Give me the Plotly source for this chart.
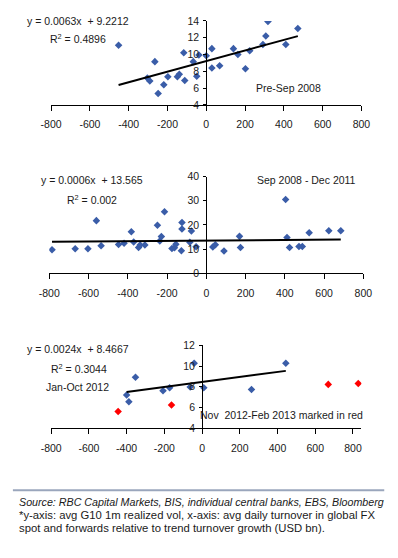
import plotly.graph_objects as go

# ---------------- data ----------------
# Panel 1: Pre-Sep 2008
x1 = [-452, -304, -291, -265, -248, -219, -198, -149, -139, -116, -111, -67, -49, -38,
      0, 29, 29, 69, 140, 163, 202, 224, 292, 307, 318, 410, 472]
y1 = [11.1, 7.2, 6.85, 9.15, 5.35, 6.4, 7.35, 7.35, 7.65, 10.2, 6.9, 9.15, 7.4, 9.95,
      9.85, 10.7, 8.4, 8.65, 10.7, 10.0, 8.3, 10.45, 11.2, 12.2, 13.95, 11.2, 13.1]
slope1, icpt1 = 0.0063, 9.2212

# Panel 2: Sep 2008 - Dec 2011
x2 = [-786, -668, -603, -560, -536, -447, -419, -382, -370, -345, -337, -313, -249, -237,
      -229, -213, -175, -162, -155, -127, -124, -124, -84, -76, -52, 33, 46, 90, 169, 174,
      404, 411, 424, 472, 489, 524, 624, 685]
y2 = [9.8, 10.2, 10.2, 21.8, 11.4, 11.9, 12.5, 17.2, 13.0, 10.7, 11.7, 11.7, 19.9, 13.4,
      15.2, 25.5, 10.3, 10.6, 12.0, 9.4, 21.0, 18.3, 12.9, 17.5, 11.0, 10.9, 11.8, 9.3, 15.3,
      10.7, 30.5, 14.8, 10.7, 11.1, 11.1, 16.8, 17.6, 17.6]
slope2, icpt2 = 0.0006, 13.565

# Panel 3: Jan-Oct 2012 (blue) and Nov 2012-Feb 2013 (red)
x3 = [-400, -388, -353, -207, -172, -63, -42, 9, 262, 444]
y3 = [7.2, 6.55, 8.92, 7.62, 7.9, 7.98, 10.27, 7.9, 7.73, 10.27]
x3_red = [-445, -162, 669, 828]
y3_red = [5.62, 6.25, 8.23, 8.32]
slope3, icpt3 = 0.0024, 8.4667

x_ticks = [-800, -600, -400, -200, 0, 200, 400, 600, 800]
y1_ticks = [4, 6, 8, 10, 12, 14]
y2_ticks = [0, 10, 20, 30, 40]
y3_ticks = [4, 6, 8, 10, 12]

# ---------------- layout helpers ----------------
W, H = 398, 558
def px(x):
    return x / W
def py(y):
    return 1 - y / H

BLUE = "#3A5DA8"
RED = "#FF0000"
TXT = "#1a1a1a"
FONT = "Liberation Sans, Arial, sans-serif"

panels = [
    dict(xr=[-800, 800], yr=[4, 14], xdom=[px(42.2), px(369)], ydom=[py(101), py(15.3)], yt=y1_ticks),
    dict(xr=[-800, 800], yr=[0, 40], xdom=[px(40.3), px(371)], ydom=[py(273.3), py(174.3)], yt=y2_ticks),
    dict(xr=[-800, 845], yr=[4, 12], xdom=[px(42.3), px(369)], ydom=[py(431.6), py(346.7)], yt=y3_ticks),
]

fig = go.Figure()

def add_panel(i, xs, ys, slope, icpt, color=BLUE):
    ax = "" if i == 1 else str(i)
    fig.add_trace(go.Scatter(x=xs, y=ys, mode="markers",
                             marker=dict(symbol="diamond", size=5.8, color=color),
                             xaxis="x" + ax, yaxis="y" + ax, showlegend=False))
    lx = [min(xs), max(xs)]
    fig.add_trace(go.Scatter(x=lx, y=[slope * v + icpt for v in lx], mode="lines",
                             line=dict(color="black", width=2),
                             xaxis="x" + ax, yaxis="y" + ax, showlegend=False))

add_panel(1, x1, y1, slope1, icpt1)
add_panel(2, x2, y2, slope2, icpt2)
add_panel(3, x3, y3, slope3, icpt3)
fig.add_trace(go.Scatter(x=x3_red, y=y3_red, mode="markers",
                         marker=dict(symbol="diamond", size=5.8, color=RED),
                         xaxis="x3", yaxis="y3", showlegend=False))

layout = {}
for i, p in enumerate(panels, start=1):
    ax = "" if i == 1 else str(i)
    pos = p["xdom"][0] + (0 - p["xr"][0]) / (p["xr"][1] - p["xr"][0]) * (p["xdom"][1] - p["xdom"][0])
    layout["xaxis" + ax] = dict(
        domain=p["xdom"], range=p["xr"], anchor="y" + ax,
        tickvals=x_ticks, ticktext=[str(v) for v in x_ticks],
        showgrid=False, zeroline=False, showline=True, linecolor="black", linewidth=1,
        ticks="outside", ticklen=5, tickcolor="black", tickwidth=1,
        ticklabelstandoff=5,
        tickfont=dict(family=FONT, size=10.5, color=TXT), fixedrange=True)
    layout["yaxis" + ax] = dict(
        domain=p["ydom"], range=p["yr"], anchor="free", position=pos,
        tickvals=p["yt"], ticktext=[str(v) for v in p["yt"]],
        showgrid=False, zeroline=False, showline=True, linecolor="black", linewidth=1,
        ticks="outside", ticklen=3, tickcolor="black", tickwidth=1,
        ticklabelstandoff=2,
        tickfont=dict(family=FONT, size=10.5, color=TXT), fixedrange=True)

def ann(text, x, y, size=10.5, italic=False, xanchor="center"):
    return dict(text=text, x=px(x), y=py(y), xref="paper", yref="paper",
                xanchor=xanchor, yanchor="middle", showarrow=False,
                font=dict(family=FONT, size=size, color=TXT,
                          style="italic" if italic else "normal"))

annotations = [
    ann("y = 0.0063x  + 9.2212", 71, 15),
    ann("R<sup>2</sup> = 0.4896", 71, 33),
    ann("Pre-Sep 2008", 292.5, 83.3),
    ann("y = 0.0006x  + 13.565", 85.5, 178.3),
    ann("R<sup>2</sup> = 0.002", 85, 197.7),
    ann("Sep 2008 - Dec 2011", 311.5, 177.7),
    ann("y = 0.0024x  + 8.4667", 70.7, 351),
    ann("R<sup>2</sup> = 0.3044", 71.3, 370),
    ann("Jan-Oct 2012", 69.5, 389.3),
    ann("Nov  2012-Feb 2013 marked in red", 284.8, 417.7),
    ann("Source: RBC Capital Markets, BIS, individual central banks, EBS, Bloomberg", 6, 506.5,
        size=10.7, italic=True, xanchor="left"),
    ann("*y-axis: avg G10 1m realized vol, x-axis: avg daily turnover in global FX", 6, 520,
        size=11.3, xanchor="left"),
    ann("spot and forwards relative to trend turnover growth (USD bn).", 6, 533,
        size=11.3, xanchor="left"),
]

shapes = [dict(type="line", xref="paper", yref="paper", x0=px(2), x1=px(393),
               y0=py(495), y1=py(495), line=dict(color="#9AA6BC", width=2))]

fig.update_layout(
    width=W, height=H, margin=dict(l=0, r=0, t=0, b=0),
    paper_bgcolor="white", plot_bgcolor="white",
    annotations=annotations, shapes=shapes, showlegend=False,
    **layout)

fig.write_html("out.html", config={"displayModeBar": False},
               post_script="document.body.style.margin='0';"
                           "document.documentElement.style.overflow='hidden';")
